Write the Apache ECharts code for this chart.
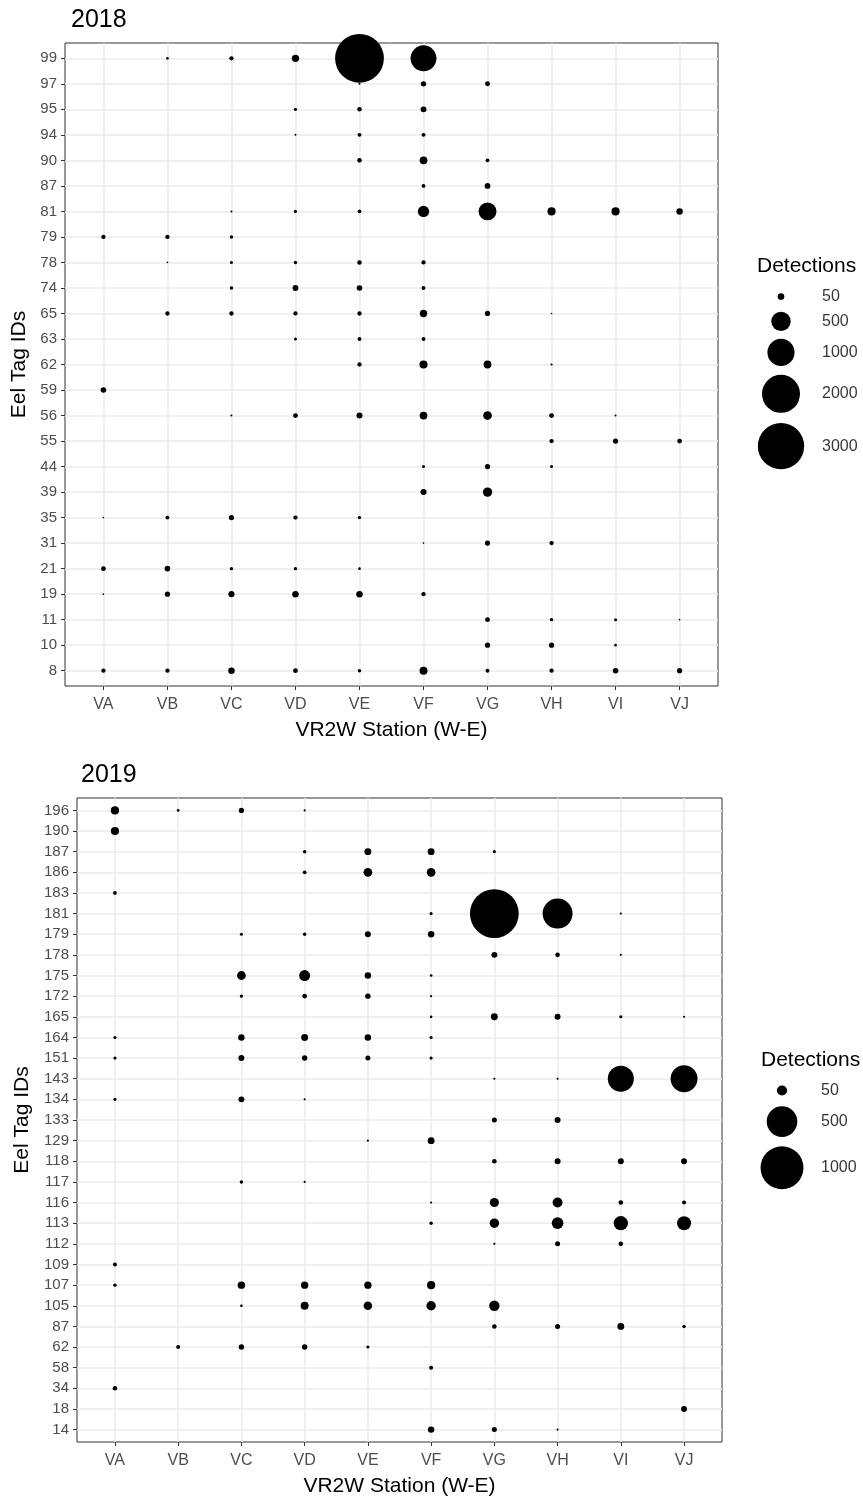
<!DOCTYPE html>
<html><head><meta charset="utf-8">
<script src="https://cdn.jsdelivr.net/npm/echarts@6/dist/echarts.min.js"></script>
<style>html,body{margin:0;padding:0;background:#fff}#c{width:863px;height:1498px}</style>
</head><body><div id="c"></div>
<script>
// ---------- DATA ----------
const stations = ['VA','VB','VC','VD','VE','VF','VG','VH','VI','VJ'];

// 2018 tag IDs, bottom -> top
const tags2018 = ['8','10','11','19','21','31','35','39','44','55','56','59','62','63','65','74','78','79','81','87','90','94','95','97','99'];
// detections per station, one entry per tag (0 = none)
const VA_2018 = [18,0,0,1,23,0,1,0,0,0,0,33,0,0,0,0,0,18,0,0,0,0,0,0,0];
const VB_2018 = [18,0,0,28,33,0,14,0,0,0,0,0,0,0,18,0,1,18,0,0,0,0,0,0,5];
const VC_2018 = [47,0,0,40,10,0,28,0,0,0,2,0,0,0,18,10,7,10,2,0,0,0,0,0,18];
const VD_2018 = [23,0,0,47,10,0,18,0,0,0,23,0,0,7,17,37,10,0,8,0,0,2,8,0,62];
const VE_2018 = [10,0,0,47,5,0,10,0,0,0,40,0,18,14,18,33,20,0,13,0,20,14,20,2,3330];
const VF_2018 = [75,0,0,18,0,1,0,40,7,0,70,0,78,14,62,14,18,0,160,13,70,14,37,30,910];
const VG_2018 = [14,28,23,0,0,28,0,105,28,0,90,0,70,0,28,0,0,0,420,35,12,0,0,25,0];
const VH_2018 = [18,28,10,0,0,18,0,0,7,18,23,0,3,0,1,0,0,0,78,0,0,0,0,0,0];
const VI_2018 = [33,5,7,0,0,0,0,0,0,28,2,0,0,0,0,0,0,0,78,0,0,0,0,0,0];
const VJ_2018 = [28,0,1,0,0,0,0,0,0,23,0,0,0,0,0,0,0,0,47,0,0,0,0,0,0];

// 2019 tag IDs, bottom -> top
const tags2019 = ['14','18','34','58','62','87','105','107','109','112','113','116','117','118','129','133','134','143','151','164','165','172','175','178','179','181','183','186','187','190','196'];
const VA_2019 = [0,0,8,0,0,0,0,4,6,0,0,0,0,0,0,0,3,0,3,3,0,0,0,0,0,0,5,0,0,31,31];
const VB_2019 = [0,0,0,0,6,0,0,0,0,0,0,0,0,0,0,0,0,0,0,0,0,0,0,0,0,0,0,0,0,0,2];
const VC_2019 = [0,0,0,0,12,0,2,25,0,0,0,0,4,0,0,0,15,0,15,18,0,3,36,0,3,0,0,0,0,0,11];
const VD_2019 = [0,0,0,0,12,0,29,24,0,0,0,0,1,0,0,0,1,0,12,21,0,8,58,0,4,0,0,5,4,0,1];
const VE_2019 = [0,0,0,0,3,0,34,24,0,0,0,0,0,0,1,0,0,0,10,18,0,12,18,0,15,0,0,35,21,0,0];
const VF_2019 = [18,0,0,6,0,0,42,31,0,0,4,1,0,0,21,0,0,0,3,3,2,1,2,0,18,3,0,35,21,0,0];
const VG_2019 = [10,0,0,0,0,8,52,0,0,1,42,39,0,8,0,10,0,1,0,0,21,0,0,15,0,1300,0,0,3,0,0];
const VH_2019 = [1,0,0,0,0,10,0,0,0,10,67,47,0,15,0,15,0,1,0,0,15,0,0,8,0,480,0,0,0,0,0];
const VI_2019 = [0,0,0,0,0,21,0,0,0,8,102,8,0,15,0,0,0,360,0,0,3,0,0,1,0,1,0,0,0,0,0];
const VJ_2019 = [0,15,0,0,0,4,0,0,0,0,98,6,0,15,0,0,0,385,0,0,1,0,0,0,0,0,0,0,0,0,0];

const legendBreaks2018 = [50,500,1000,2000,3000];
const legendBreaks2019 = [50,500,1000];
const panelTitles = ['2018','2019'];
const xTitle = 'VR2W Station (W-E)';
const yTitle = 'Eel Tag IDs';
const legendTitle = 'Detections';

// ---------- BUILD ----------
const FONT = '"Liberation Sans", Arial, sans-serif';
const cols2018 = [VA_2018,VB_2018,VC_2018,VD_2018,VE_2018,VF_2018,VG_2018,VH_2018,VI_2018,VJ_2018];
const cols2019 = [VA_2019,VB_2019,VC_2019,VD_2019,VE_2019,VF_2019,VG_2019,VH_2019,VI_2019,VJ_2019];

function toPoints(cols){
  const out = [];
  cols.forEach((col, xi) => col.forEach((v, yi) => { if (v > 0) out.push([xi, yi, v]); }));
  return out;
}
function maxOf(cols){ return Math.max(...cols.map(c => Math.max(...c))); }
function sizer(vmax){ return v => 0.8 + 48 * Math.sqrt(v / vmax); }

const panels = [
  {cols: cols2018, tags: tags2018, breaks: legendBreaks2018, title: panelTitles[0],
   grid: {left: 65, top: 43, width: 653, height: 643}, yGap: 28,
   leg: {left: 760, top: 285, width: 100, height: 200, cx: 21, lx: 62, titleLeft: 752, titleTop: 251},
   titlePos: {left: 66, top: 3}},
  {cols: cols2019, tags: tags2019, breaks: legendBreaks2019, title: panelTitles[1],
   grid: {left: 77, top: 798, width: 645, height: 645}, yGap: 43,
   leg: {left: 760, top: 1079, width: 100, height: 130, cx: 22, lx: 61, titleLeft: 756, titleTop: 1045},
   titlePos: {left: 76, top: 758}}
];

const grids = [], xAxes = [], yAxes = [], series = [], titles = [];
panels.forEach((p, i) => {
  const size = sizer(maxOf(p.cols));
  const gMain = grids.length;
  grids.push(Object.assign({show: true, borderColor: '#333333', borderWidth: 1, backgroundColor: 'rgba(0,0,0,0)', containLabel: false}, p.grid));
  const xIdx = stations.map((_, k) => k);
  const yIdx = p.tags.map((_, k) => k);
  xAxes.push({
    type: 'value', gridIndex: gMain, min: -0.6, max: stations.length - 1 + 0.6, position: 'bottom',
    axisLine: {show: false, onZero: false},
    axisTick: {show: true, customValues: xIdx, length: 4, lineStyle: {color: '#333333', width: 1}},
    axisLabel: {show: true, customValues: xIdx, margin: 11, color: '#4D4D4D', fontSize: 16, fontFamily: FONT,
      formatter: v => stations[Math.round(v)] || ''},
    splitLine: {show: true, lineStyle: {color: '#EBEBEB', width: 1.5}},
    name: xTitle, nameLocation: 'middle', nameGap: 34,
    nameTextStyle: {color: '#000', fontSize: 21, fontFamily: FONT}
  });
  yAxes.push({
    type: 'value', gridIndex: gMain, min: -0.6, max: p.tags.length - 1 + 0.6, position: 'left',
    axisLine: {show: false, onZero: false},
    axisTick: {show: true, customValues: yIdx, length: 4, lineStyle: {color: '#333333', width: 1}},
    axisLabel: {show: true, customValues: yIdx, margin: 8, color: '#4D4D4D', fontSize: 15, fontFamily: FONT,
      formatter: v => p.tags[Math.round(v)] || ''},
    splitLine: {show: true, lineStyle: {color: '#EBEBEB', width: 1.5}},
    name: yTitle, nameLocation: 'middle', nameGap: p.yGap,
    nameTextStyle: {color: '#000', fontSize: 21, fontFamily: FONT}
  });
  series.push({
    type: 'scatter', xAxisIndex: xAxes.length - 1, yAxisIndex: yAxes.length - 1,
    data: toPoints(p.cols), clip: true, symbol: 'circle',
    symbolSize: val => size(val[2]),
    itemStyle: {color: '#000', opacity: 1}, silent: true
  });

  // legend grid (pixel units)
  const gLeg = grids.length;
  grids.push({left: p.leg.left, top: p.leg.top, width: p.leg.width, height: p.leg.height, show: false});
  xAxes.push({type: 'value', gridIndex: gLeg, min: 0, max: p.leg.width, show: false});
  yAxes.push({type: 'value', gridIndex: gLeg, min: 0, max: p.leg.height, inverse: true, show: false});
  let y = 0; const keyPts = [], labPts = [];
  p.breaks.forEach(b => {
    const h = Math.max(23, 1.12 * size(b) + 5);
    const c = y + h / 2; y += h;
    keyPts.push([p.leg.cx, c, b]);
    labPts.push([p.leg.lx, c, b]);
  });
  series.push({
    type: 'scatter', xAxisIndex: xAxes.length - 1, yAxisIndex: yAxes.length - 1,
    data: keyPts, clip: false, symbol: 'circle', symbolSize: val => size(val[2]),
    itemStyle: {color: '#000', opacity: 1}, silent: true
  });
  series.push({
    type: 'scatter', xAxisIndex: xAxes.length - 1, yAxisIndex: yAxes.length - 1,
    data: labPts, clip: false, symbolSize: 0, silent: true,
    label: {show: true, position: 'right', distance: 0, formatter: q => String(q.value[2]),
      color: '#000', fontSize: 16, fontFamily: FONT}
  });

  titles.push({text: p.title, left: p.titlePos.left, top: p.titlePos.top,
    textStyle: {color: '#000', fontSize: 25, fontWeight: 'normal', fontFamily: FONT}});
  titles.push({text: legendTitle, left: p.leg.titleLeft, top: p.leg.titleTop,
    textStyle: {color: '#000', fontSize: 21, fontWeight: 'normal', fontFamily: FONT}});
});

const chart = echarts.init(document.getElementById('c'), null, {renderer: 'canvas'});
chart.setOption({
  animation: false, backgroundColor: '#fff',
  title: titles, grid: grids, xAxis: xAxes, yAxis: yAxes, series: series
});
</script></body></html>
